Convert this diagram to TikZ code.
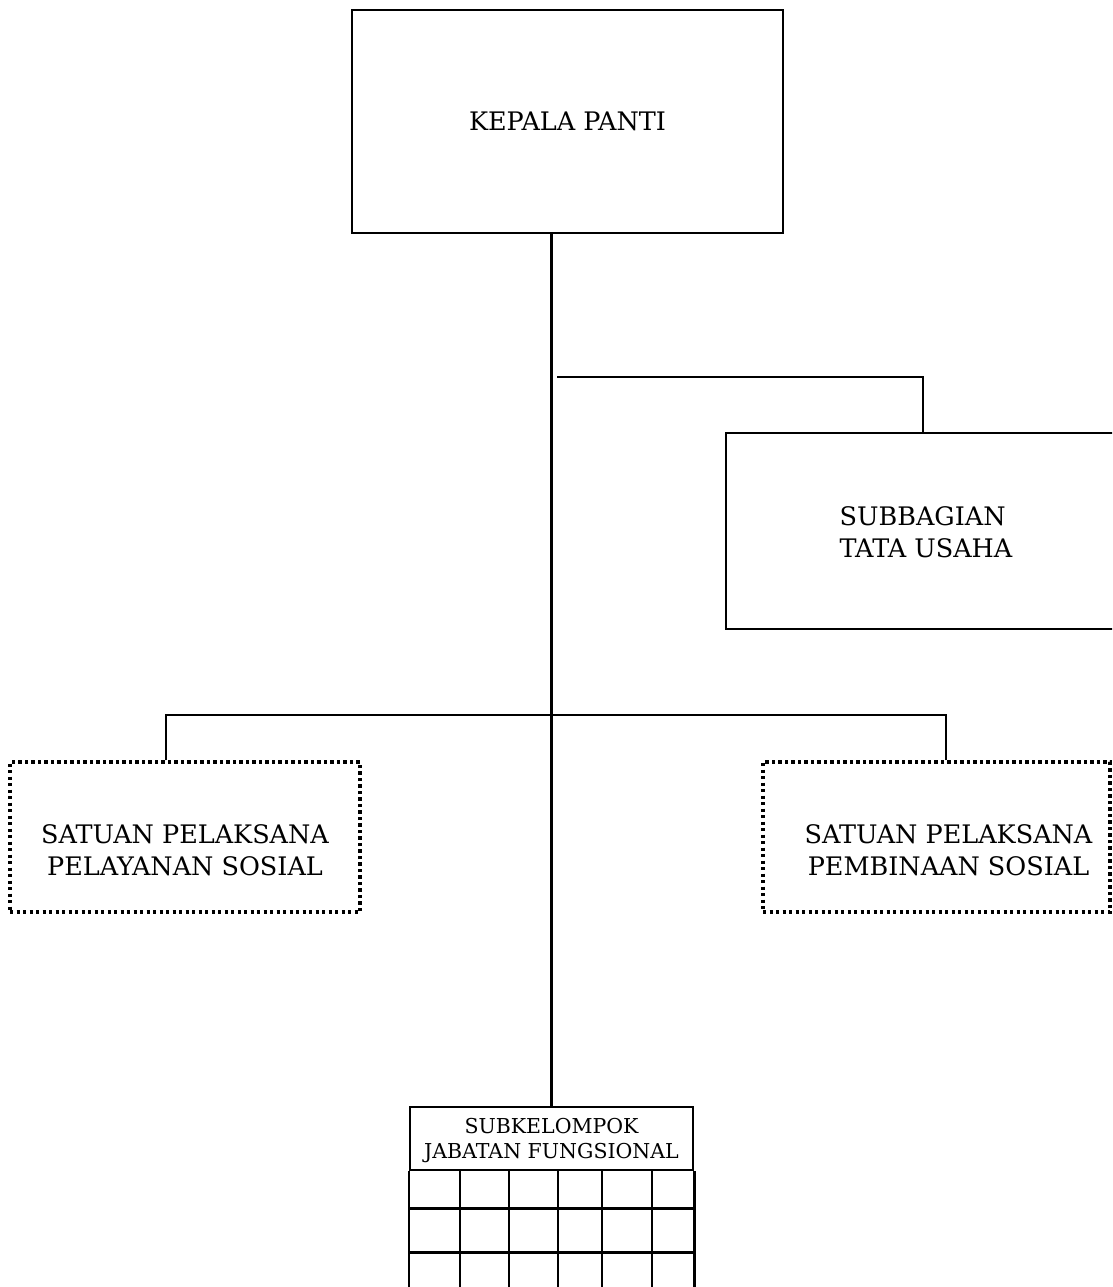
\documentclass[tikz,border=0pt]{standalone}
\usepackage{fontspec}
\setmainfont{DejaVu Serif}
\usetikzlibrary{calc}
\begin{document}
\begin{tikzpicture}[x=1pt,y=-1pt,
  solidbox/.style={draw, line width=2.6pt, inner sep=0pt, rectangle},
  dotbox/.style={draw, line width=3.2pt, dash pattern=on 3.2pt off 3.3pt, inner sep=0pt, rectangle},
  conn/.style={line width=2.6pt},
  trunk/.style={line width=3.4pt},
  gridline/.style={line width=2.4pt},
  bigtext/.style={font=\fontsize{25.5}{32}\selectfont, align=center, inner sep=0pt},
  lefttext/.style={font=\fontsize{25.5}{32}\selectfont, align=left, inner sep=0pt},
  smalltext/.style={font=\fontsize{20.5}{25}\selectfont, align=center, inner sep=0pt}]
\useasboundingbox (0,0) rectangle (1112,1287);
\clip (0,0) rectangle (1112,1287);

% boxes
\node[solidbox, minimum width=431pt, minimum height=223pt] (kepala) at (567.5,121.5) {};
\node[bigtext] (kepalaT) at (kepala.center) {KEPALA PANTI};

\node[solidbox, minimum width=394pt, minimum height=196pt] (tu) at (923,531) {};
\node[lefttext] (tuT) at ($(tu.center)+(3,1)$) {SUBBAGIAN\\TATA USAHA};

\node[dotbox, minimum width=350pt, minimum height=150pt] (pl) at (185,837) {};
\node[bigtext] (plT) at ($(pl.center)+(0,13)$) {SATUAN PELAKSANA\\PELAYANAN SOSIAL};

\node[dotbox, minimum width=347pt, minimum height=150pt] (pb) at (936.5,837) {};
\node[bigtext] (pbT) at ($(pb.center)+(12,13)$) {SATUAN PELAKSANA\\PEMBINAAN SOSIAL};

\node[solidbox, minimum width=283pt, minimum height=63pt] (jf) at (551.5,1138.5) {};
\node[smalltext] (jfT) at ($(jf.center)+(0,2)$) {SUBKELOMPOK\\JABATAN FUNGSIONAL};

% grid below the header
\draw[gridline] (jf.south west) -- ++(0,140);
\draw[gridline] (jf.south east) -- ++(0,140);
\foreach \yy in {37,81} {
  \draw[gridline] ($(jf.south west)+(0,\yy)$) -- ($(jf.south east)+(0,\yy)$);
}
\foreach \xx in {460,509,558,602,652} {
  \draw[gridline] (jf.south west -| \xx,0) -- ++(0,140);
}

% connectors
\draw[trunk] (kepala.south -| jf.north) -- (jf.north);
\coordinate (tuBr) at (557,377);
\draw[conn] (tuBr) -| (tu.north);
\coordinate (mid) at (552,715);
\coordinate (plIn) at ($(pl.north)+(-19,0)$);
\coordinate (pbIn) at ($(pb.north)+(9.5,0)$);
\draw[conn] (plIn) |- (mid) -| (pbIn);
\end{tikzpicture}
\end{document}
